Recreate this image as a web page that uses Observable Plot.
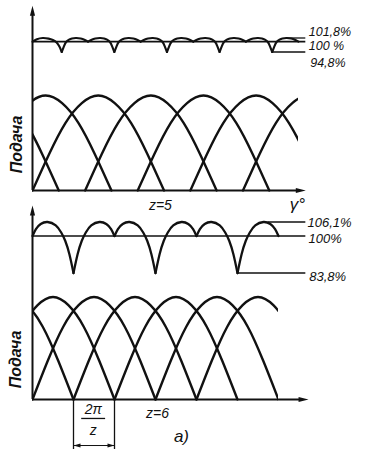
<!DOCTYPE html>
<html><head><meta charset="utf-8">
<script src="https://cdn.jsdelivr.net/npm/d3@7"></script>
<script src="https://cdn.jsdelivr.net/npm/@observablehq/plot@0.6"></script>
<style>
body{margin:0;background:#fff;}
#chart{position:relative;width:373px;height:456px;background:#fff;overflow:hidden;}
#chart svg{position:absolute;left:0;top:0;}
</style></head><body><div id="chart"></div>
<script>
// ---- data (angles in degrees, flow relative / in %) ----
// one piston delivery arc: [offset°, relative flow]
const arcProfile = [[0,0],[22.5,0.38],[45,0.71],[67.5,0.92],[90,1],[112.5,0.92],[135,0.71],[157.5,0.38],[180,0]];
const arcStartsZ5 = [-144,-72,0,72,144,216,288];
const arcStartsZ6 = [-120,-60,0,60,120,180,240];

// total delivery ripple, z = 5
const rippleZ5First = [[0,100],[6,101.2],[14,101.8],[22,101.5],[28,100.8],[33,99.6],[37,97.4],[40,94.8]];
const rippleZ5Rise = [[0,94.8],[3,97.6],[6,99.8],[10,101],[14,101.6],[20,101.8],[26,101.5],[31,100.9],[36,100]];
const rippleZ5Fall = [[0,100],[5,100.9],[10,101.5],[16,101.8],[22,101.6],[26,101],[30,99.8],[33,97.6],[36,94.8]];
const rippleZ5RiseAt = [40,112,184,256,328];
const rippleZ5FallAt = [76,148,220,292];
const levelsZ5 = [101.8,100,94.8];
const labelsZ5 = ["101,8%","100 %","94,8%"];

// total delivery ripple, z = 6
const rippleZ6Rise = [[0,83.8],[6,92],[12,97.8],[18,101.5],[26,104.6],[38,106.1],[48,105.2],[55,103],[60,100]];
const rippleZ6Fall = [[0,100],[5,103],[12,105.2],[22,106.1],[34,104.6],[42,101.5],[48,97.8],[54,92],[60,83.8]];
const rippleZ6RiseAt = [60,180,300];
const rippleZ6FallAt = [0,120,240];
const levelsZ6 = [106.1,100,83.8];
const labelsZ6 = ["106,1%","100%","83,8%"];

// ---- helpers ----
const ink = "#111";
const font = "Liberation Sans, Arial, sans-serif";
const css = "position:absolute;left:0;top:0;background:transparent;overflow:visible;max-width:none;";
const shift = (shape, starts, tag) => starts.flatMap((s,i)=>shape.map(([dx,v])=>({x:s+dx,y:v,seg:tag+i})));
const txt = (data, o) => Plot.text(data, {fontFamily:font, fontStyle:"italic", fill:ink, ...o});
const chart = document.getElementById("chart");

// ===== Panel z = 5 : arcs =====
chart.append(Plot.plot({
  width:373, height:456, marginLeft:32, marginRight:75, marginTop:0, marginBottom:256,
  style:css,
  x:{domain:[0,364], range:[32,298], axis:null},
  y:{domain:[0,1], range:[190,95], axis:null},
  marks:[
    Plot.line(shift(arcProfile, arcStartsZ5, "a"), {x:"x", y:"y", z:"seg", curve:"natural", stroke:ink, strokeWidth:2.4, clip:true}),
    Plot.ruleY([0], {x1:0, x2:362, stroke:ink, strokeWidth:2}),
    Plot.ruleX([0], {y1:0, y2:1.85, stroke:ink, strokeWidth:2}),
    Plot.vector([[360.3,0]], {x:d=>d[0], y:d=>d[1], length:10, rotate:90, shape:"spike", r:2.6, anchor:"start", fill:ink, stroke:"none"}),
    Plot.vector([[0,1.84]], {x:d=>d[0], y:d=>d[1], length:10, rotate:0, shape:"spike", r:2.6, anchor:"start", fill:ink, stroke:"none"}),
    txt(["Подача"], {x:-22, y:0.484, rotate:-90, fontSize:16, fontWeight:"bold"}),
    txt(["z=5"], {x:175, y:-0.158, fontSize:14}),
    txt(["γ°"], {x:362.6, y:-0.147, fontSize:17})
  ]
}));

// ===== Panel z = 5 : ripple =====
chart.append(Plot.plot({
  width:373, height:456, style:css,
  x:{domain:[0,364], range:[32,298], axis:null},
  y:{domain:[94.8,101.8], range:[51.5,37.5], axis:null},
  marks:[
    Plot.ruleY([100], {x1:0, x2:374, stroke:ink, strokeWidth:1.6}),
    Plot.ruleY([101.8], {x1:348, x2:374, stroke:ink, strokeWidth:1.3}),
    Plot.ruleY([94.8], {x1:328, x2:374, stroke:ink, strokeWidth:1.3}),
    Plot.line([
      ...shift(rippleZ5First, [0], "f"),
      ...shift(rippleZ5Rise, rippleZ5RiseAt, "r"),
      ...shift(rippleZ5Fall, rippleZ5FallAt, "d")
    ], {x:"x", y:"y", z:"seg", curve:"natural", stroke:ink, strokeWidth:2.1}),
    txt([labelsZ5[0]], {x:378, y:levelsZ5[0], dy:-6.5, textAnchor:"start", fontSize:12.5}),
    txt([labelsZ5[1]], {x:378, y:levelsZ5[1], dy:4.5, textAnchor:"start", fontSize:12.5}),
    txt([labelsZ5[2]], {x:380, y:levelsZ5[2], dy:10.5, textAnchor:"start", fontSize:12.5})
  ]
}));

// ===== Panel z = 6 : arcs =====
chart.append(Plot.plot({
  width:373, height:456, marginLeft:32, marginRight:95, marginTop:205, marginBottom:46,
  style:css,
  x:{domain:[0,360], range:[32,278], axis:null},
  y:{domain:[0,1], range:[399,296.5], axis:null},
  marks:[
    Plot.line(shift(arcProfile, arcStartsZ6, "b"), {x:"x", y:"y", z:"seg", curve:"natural", stroke:ink, strokeWidth:2.4, clip:true}),
    Plot.ruleY([0], {x1:0, x2:391, stroke:ink, strokeWidth:2}),
    Plot.ruleX([0], {y1:0, y2:1.8, stroke:ink, strokeWidth:2}),
    Plot.vector([[389.4,0]], {x:d=>d[0], y:d=>d[1], length:10, rotate:90, shape:"spike", r:2.6, anchor:"start", fill:ink, stroke:"none"}),
    Plot.vector([[0,1.795]], {x:d=>d[0], y:d=>d[1], length:10, rotate:0, shape:"spike", r:2.6, anchor:"start", fill:ink, stroke:"none"}),
    // 2π/z dimension
    Plot.ruleX([60,120], {y1:0, y2:-0.488, stroke:ink, strokeWidth:1.3}),
    Plot.ruleY([-0.449], {x1:60, x2:120, stroke:ink, strokeWidth:1}),
    Plot.vector([[60,-0.449,-90],[120,-0.449,90]], {x:d=>d[0], y:d=>d[1], rotate:d=>d[2], length:7, shape:"spike", r:2, anchor:"end", fill:ink, stroke:"none"}),
    Plot.ruleY([-0.185], {x1:72, x2:107, stroke:ink, strokeWidth:1.3}),
    txt(["2π"], {x:89, y:-0.098, fontSize:14}),
    txt(["z"], {x:89, y:-0.302, fontSize:14}),
    txt(["Подача"], {x:-25, y:0.39, rotate:-90, fontSize:16, fontWeight:"bold"}),
    txt(["z=6"], {x:183, y:-0.137, fontSize:14}),
    txt(["a)"], {x:218, y:-0.361, fontSize:17})
  ]
}));

// ===== Panel z = 6 : ripple =====
chart.append(Plot.plot({
  width:373, height:456, style:css,
  x:{domain:[0,360], range:[32,278], axis:null},
  y:{domain:[83.8,106.1], range:[272.5,221.5], axis:null},
  marks:[
    Plot.ruleY([100], {x1:0, x2:400, stroke:ink, strokeWidth:1.6}),
    Plot.ruleY([106.1], {x1:345, x2:400, stroke:ink, strokeWidth:1.3}),
    Plot.ruleY([83.8], {x1:300, x2:400, stroke:ink, strokeWidth:1.3}),
    Plot.line([
      ...shift(rippleZ6Rise, rippleZ6RiseAt, "r"),
      ...shift(rippleZ6Fall, rippleZ6FallAt, "d")
    ], {x:"x", y:"y", z:"seg", curve:"natural", stroke:ink, strokeWidth:2.3}),
    txt([labelsZ6[0]], {x:402.5, y:levelsZ6[0], dy:1, textAnchor:"start", fontSize:13}),
    txt([labelsZ6[1]], {x:404, y:levelsZ6[1], dy:3, textAnchor:"start", fontSize:13}),
    txt([labelsZ6[2]], {x:405, y:levelsZ6[2], dy:3.5, textAnchor:"start", fontSize:13})
  ]
}));
</script></body></html>
